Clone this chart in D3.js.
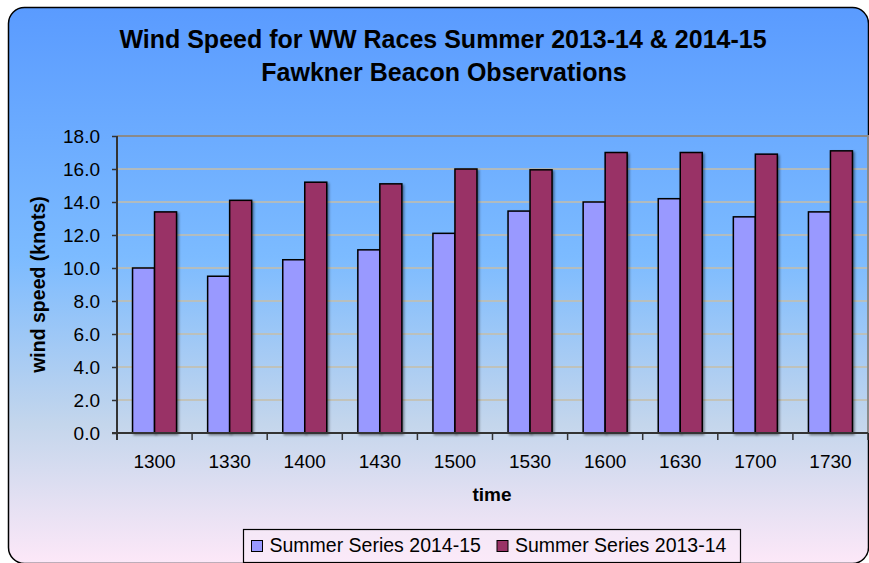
<!DOCTYPE html>
<html><head><meta charset="utf-8">
<script src="https://cdn.jsdelivr.net/npm/d3@7"></script>
<style>body{margin:0;background:#fff}svg{display:block}text{font-family:Arial,"Liberation Sans",sans-serif}</style>
</head><body><svg id="c" width="869" height="563"></svg>
<script>
const categories = ["1300","1330","1400","1430","1500","1530","1600","1630","1700","1730"];
const series2014 = [10.0, 9.5, 10.5, 11.1, 12.1, 13.45, 14.0, 14.2, 13.1, 13.4];
const series2013 = [13.4, 14.1, 15.2, 15.1, 16.0, 15.95, 17.0, 17.0, 16.9, 17.1];
const seriesNames = ["Summer Series 2014-15", "Summer Series 2013-14"];
const seriesColors = ["#9999FF", "#993366"];
const yTicks = [0,2,4,6,8,10,12,14,16,18];
const titleLines = ["Wind Speed for WW Races Summer 2013-14 & 2014-15", "Fawkner Beacon Observations"];

const FONT = "Arial, 'Liberation Sans', sans-serif";
const svg = d3.select("#c");
const defs = svg.append("defs");
const g = defs.append("linearGradient").attr("id","bg").attr("x1",0).attr("y1",0).attr("x2",0).attr("y2",1);
[[0,"#5a9bff"],[0.45,"#7cbbff"],[0.75,"#c4d6ec"],[1,"#fde8f8"]].forEach(([o,c])=>g.append("stop").attr("offset",o).attr("stop-color",c));
const sh = defs.append("filter").attr("id","sh").attr("x","-20%").attr("y","-5%").attr("width","150%").attr("height","115%");
sh.append("feDropShadow").attr("dx",1.5).attr("dy",1.5).attr("stdDeviation",1).attr("flood-color","#000").attr("flood-opacity",0.45);

svg.append("rect").attr("x",8.5).attr("y",7.5).attr("width",860).attr("height",556).attr("rx",16)
  .attr("fill","url(#bg)").attr("stroke","#000").attr("stroke-width",1.5);

const m = {l:117, r:868, t:136, b:433};
const x = d3.scaleBand().domain(categories).range([m.l, m.r]);
const y = d3.scaleLinear().domain([0,18]).range([m.b, m.t]);
const bw = 22, off = (x.bandwidth() - 2*bw)/2;

// gridlines
svg.append("g").selectAll("line").data(yTicks.filter(d=>d>0 && d<18)).join("line")
  .attr("x1",m.l).attr("x2",m.r).attr("y1",d=>y(d)).attr("y2",d=>y(d))
  .attr("stroke","#c6bea8").attr("stroke-width",1.5);
// plot border top/right
svg.append("path").attr("d",`M${m.l},${m.t}H${m.r}V${m.b}`).attr("fill","none").attr("stroke","#8a8a8a").attr("stroke-width",2);

// bars
const data = [series2014, series2013];
data.forEach((vals,si)=>{
  svg.append("g").selectAll("rect").data(vals).join("rect")
    .attr("x",(d,i)=>x(categories[i]) + off + si*bw)
    .attr("y",d=>y(d)).attr("width",bw).attr("height",d=>y(0)-y(d))
    .attr("fill",seriesColors[si]).attr("stroke","#000").attr("stroke-width",1.5)
    .attr("filter","url(#sh)");
});

// y axis
const ya = svg.append("g").attr("transform",`translate(${m.l},0)`)
  .call(d3.axisLeft(y).tickValues(yTicks).tickFormat(d3.format(".1f")).tickSize(5).tickPadding(12));
ya.select(".domain").attr("stroke","#333").attr("stroke-width",2).attr("d",`M0,${m.t}V${m.b+7}`);
ya.selectAll(".tick line").attr("stroke","#333").attr("stroke-width",1.5);
ya.selectAll("text").attr("font-size",19).attr("fill","#000").attr("font-family",FONT);

// x axis
const xa = svg.append("g").attr("transform",`translate(0,${m.b})`)
  .call(d3.axisBottom(x).tickSize(0).tickPadding(0));
xa.select(".domain").remove();
xa.selectAll(".tick text").attr("dy",null).attr("y",35);
xa.append("line").attr("x1",m.l-5).attr("x2",m.r).attr("y1",0).attr("y2",0).attr("stroke","#333").attr("stroke-width",2);
xa.selectAll(".bt").data(categories.map(c=>x(c)).concat([m.r])).join("line").attr("class","bt")
  .attr("x1",d=>d).attr("x2",d=>d).attr("y1",0).attr("y2",7).attr("stroke","#333").attr("stroke-width",1.5);
xa.selectAll("text").attr("font-size",19).attr("fill","#000").attr("font-family",FONT);

// titles
svg.append("text").attr("x",443).attr("y",48).attr("text-anchor","middle").attr("font-size",25).attr("font-weight","bold").text(titleLines[0]);
svg.append("text").attr("x",444).attr("y",81).attr("text-anchor","middle").attr("font-size",25).attr("font-weight","bold").text(titleLines[1]);
svg.append("text").attr("x",492).attr("y",501).attr("text-anchor","middle").attr("font-size",19).attr("font-weight","bold").text("time");
svg.append("text").attr("transform",`translate(45,${(m.t+m.b)/2}) rotate(-90)`).attr("text-anchor","middle").attr("font-size",19.5).attr("font-weight","bold").text("wind speed (knots)");

// legend
const lg = svg.append("g");
lg.append("rect").attr("x",243.5).attr("y",529.5).attr("width",497).attr("height",33).attr("fill","#f9ecf9").attr("fill-opacity",0.5).attr("stroke","#000").attr("stroke-width",1.2);
const lx = [251.5, 497];
seriesNames.forEach((n,i)=>{
  lg.append("rect").attr("x",lx[i]).attr("y",540.5).attr("width",11).attr("height",11).attr("fill",seriesColors[i]).attr("stroke","#000").attr("stroke-width",1);
  lg.append("text").attr("x",lx[i]+18).attr("y",552).attr("font-size",19.5).text(n);
});
</script></body></html>
